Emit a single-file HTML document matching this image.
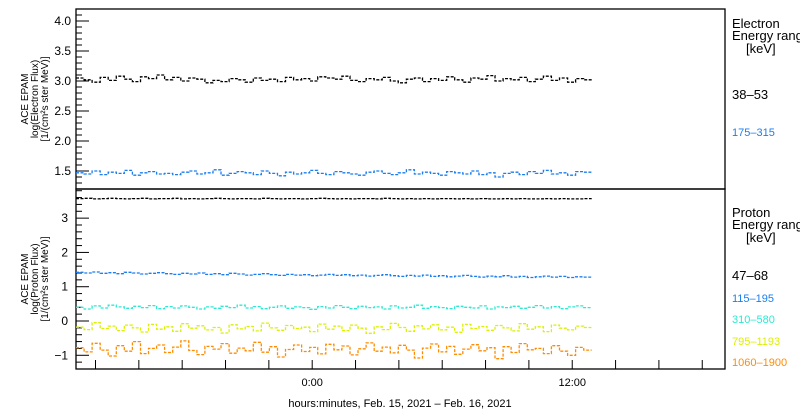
<!DOCTYPE html>
<html><head><meta charset="utf-8">
<style>
html,body{margin:0;padding:0;background:#fff;}
svg{display:block;font-family:"Liberation Sans",sans-serif;}
</style></head>
<body>
<svg id="chart" width="800" height="410" viewBox="0 0 800 410" xmlns="http://www.w3.org/2000/svg">
</svg>
<script>
// ---- data ----
const xTickHours = [-10,-8,-6,-4,-2,0,2,4,6,8,10,12,14,16,18];
const xLabelHours = [0,12];
const xLabels = ["0:00","12:00"];
const dataStartHour = -10.9;
const dataEndHour = 12.9;
const topTicks = [1.5,2.0,2.5,3.0,3.5,4.0];
const topTickLabels = ["1.5","2.0","2.5","3.0","3.5","4.0"];
const botTicks = [-1,0,1,2,3];
const botTickLabels = ["\u22121","0","1","2","3"];
const electronLabels = ["38\u201353","175\u2013315"];
const protonLabels = ["47\u201368","115\u2013195","310\u2013580","795\u20131193","1060\u20131900"];
const e1 = [3.05,3.02,2.98,3.06,3.01,3.08,3.03,2.99,3.07,3.04,3.10,3.02,3.06,3.00,3.05,3.03,2.97,3.01,2.99,3.04,3.02,2.98,3.05,3.01,3.03,2.99,3.06,3.02,3.04,3.00,3.07,3.05,3.03,3.08,3.01,2.99,3.04,3.02,3.06,3.00,2.97,3.03,3.05,2.99,3.04,3.01,3.07,3.02,2.98,3.05,3.03,3.09,3.00,3.04,3.02,3.06,2.99,3.03,3.08,3.01,3.05,2.98,3.04,3.02];
const e2 = [1.47,1.45,1.50,1.44,1.48,1.46,1.51,1.43,1.47,1.49,1.45,1.46,1.44,1.48,1.50,1.45,1.47,1.52,1.43,1.46,1.49,1.47,1.44,1.50,1.46,1.42,1.48,1.45,1.47,1.51,1.46,1.44,1.49,1.47,1.45,1.43,1.48,1.50,1.46,1.44,1.47,1.52,1.45,1.48,1.46,1.43,1.49,1.47,1.45,1.50,1.44,1.47,1.40,1.46,1.48,1.44,1.49,1.46,1.51,1.45,1.47,1.43,1.49,1.48];
const p1 = [3.57,3.58,3.56,3.57,3.58,3.57,3.56,3.57,3.58,3.56,3.57,3.57,3.58,3.56,3.57,3.56,3.57,3.58,3.57,3.56,3.57,3.57,3.56,3.58,3.57,3.56,3.57,3.57,3.56,3.57,3.58,3.57,3.56,3.57,3.56,3.57,3.57,3.56,3.58,3.57,3.56,3.57,3.56,3.57,3.56,3.57,3.57,3.56,3.57,3.56,3.57,3.56,3.56,3.57,3.56,3.57,3.56,3.56,3.57,3.56,3.57,3.56,3.56,3.57];
const p2 = [1.42,1.40,1.43,1.39,1.41,1.38,1.42,1.40,1.37,1.39,1.41,1.38,1.36,1.39,1.37,1.40,1.36,1.38,1.35,1.39,1.37,1.34,1.36,1.38,1.35,1.33,1.36,1.34,1.35,1.32,1.34,1.36,1.33,1.35,1.32,1.34,1.31,1.33,1.35,1.32,1.30,1.33,1.31,1.34,1.30,1.32,1.29,1.31,1.33,1.30,1.28,1.31,1.29,1.32,1.28,1.30,1.27,1.29,1.31,1.28,1.30,1.27,1.29,1.28];
const p3 = [0.40,0.35,0.44,0.38,0.46,0.41,0.37,0.43,0.39,0.45,0.36,0.42,0.38,0.44,0.40,0.35,0.41,0.37,0.43,0.39,0.46,0.38,0.42,0.36,0.40,0.44,0.37,0.41,0.39,0.34,0.42,0.38,0.45,0.40,0.36,0.43,0.39,0.41,0.35,0.44,0.38,0.40,0.46,0.37,0.42,0.39,0.36,0.43,0.40,0.38,0.44,0.35,0.41,0.39,0.43,0.37,0.40,0.45,0.38,0.42,0.36,0.41,0.44,0.39];
const p4 = [-0.18,-0.25,-0.05,-0.22,-0.15,-0.28,-0.12,-0.20,-0.32,-0.10,-0.24,-0.17,-0.30,-0.08,-0.21,-0.14,-0.26,-0.19,-0.35,-0.11,-0.23,-0.16,-0.29,-0.06,-0.20,-0.27,-0.13,-0.22,-0.18,-0.31,-0.09,-0.24,-0.15,-0.28,-0.12,-0.21,-0.36,-0.17,-0.25,-0.07,-0.19,-0.30,-0.14,-0.23,-0.11,-0.26,-0.18,-0.33,-0.10,-0.22,-0.16,-0.27,-0.13,-0.20,-0.29,-0.08,-0.24,-0.17,-0.31,-0.12,-0.21,-0.26,-0.15,-0.19];
const p5 = [-0.78,-0.90,-0.65,-0.85,-1.02,-0.72,-0.88,-0.60,-0.95,-0.80,-0.70,-0.92,-0.76,-0.58,-0.86,-0.98,-0.74,-0.82,-0.66,-0.94,-0.79,-0.87,-0.62,-0.91,-0.75,-1.05,-0.83,-0.70,-0.89,-0.77,-0.96,-0.68,-0.84,-0.73,-0.99,-0.81,-0.64,-0.88,-0.76,-0.93,-0.71,-0.85,-1.08,-0.79,-0.67,-0.90,-0.74,-0.97,-0.82,-0.69,-0.87,-0.78,-1.10,-0.75,-0.92,-0.66,-0.84,-0.80,-0.95,-0.72,-0.88,-1.00,-0.77,-0.85];

// ---- layout ----
const NS="http://www.w3.org/2000/svg";
const svg=document.getElementById('chart');
const X0=76,X1=725;
const H0=-10.9,H1=19.05;
function xs(h){return X0+(h-H0)/(H1-H0)*(X1-X0);}
const T0=9,T1=189,TMIN=1.2,TMAX=4.2;
function yTop(v){return T1-(v-TMIN)/(TMAX-TMIN)*(T1-T0);}
const B0=189,B1=369,BMIN=-1.4,BMAX=3.85;
function yBot(v){return B1-(v-BMIN)/(BMAX-BMIN)*(B1-B0);}
function el(tag,attrs,parent){const e=document.createElementNS(NS,tag);for(const k in attrs)e.setAttribute(k,attrs[k]);(parent||svg).appendChild(e);return e;}
function txt(s,x,y,attrs,parent){const t=el('text',Object.assign({x:x,y:y,'font-size':11},attrs),parent);t.textContent=s;return t;}

const fr1=el('rect',{x:X0,y:T0,width:X1-X0,height:T1-T0,fill:'none',stroke:'#000','stroke-width':1.3});


const fr2=el('rect',{x:X0,y:B0,width:X1-X0,height:B1-B0,fill:'none',stroke:'#000','stroke-width':1.3});



const gTop=el('g',{});


for(let i=0;i<=30;i++){const v=TMIN+i*0.1;const y=yTop(v);const major=topTicks.some(t=>Math.abs(t-v)<1e-6);
  el('line',{x1:X0,x2:X0+(major?13:6),y1:y,y2:y,stroke:'#000','stroke-width':1},gTop);}
topTicks.forEach((v,i)=>{const t=txt(topTickLabels[i],X0-5,yTop(v)+4,{'text-anchor':'end','font-size':12},gTop);
  
  });
const gBot=el('g',{});


for(let i=0;i<=26;i++){const v=-1.4+i*0.2;const y=yBot(v);const major=botTicks.some(t=>Math.abs(t-v)<1e-6);
  el('line',{x1:X0,x2:X0+(major?13:6),y1:y,y2:y,stroke:'#000','stroke-width':1},gBot);}
botTicks.forEach((v,i)=>{const t=txt(botTickLabels[i],X0-8,yBot(v)+4,{'text-anchor':'end','font-size':12},gBot);
  
  });

const gX=el('g',{});


xTickHours.forEach(h=>{const x=xs(h);el('line',{x1:x,x2:x,y1:B1,y2:B1-9,stroke:'#000','stroke-width':1},gX);});
xLabelHours.forEach((h,i)=>{const t=txt(xLabels[i],xs(h),386,{'text-anchor':'middle','font-size':11},gX);
  
  });
const xt=txt("hours:minutes, Feb. 15, 2021 \u2013 Feb. 16, 2021",400,407,{'text-anchor':'middle','font-size':11});



function ytitle(lines,cy,name){const g=el('g',{transform:`translate(30,${cy}) rotate(-90)`});
  
  
  lines.forEach((s,i)=>txt(s,0,i*10-2,{'text-anchor':'middle','font-size':10},g));}
ytitle(["ACE EPAM","log(Electron Flux)","[1/(cm\u00b2s ster MeV)]"],99,'electron-y-axis-title');
ytitle(["ACE EPAM","log(Proton Flux)","[1/(cm\u00b2s ster MeV)]"],279,'proton-y-axis-title');

function drawSeries(vals,yfn,color,name){
  const n=vals.length;const step=(xs(dataEndHour)-xs(dataStartHour))/n;
  let pts=[];
  vals.forEach((v,i)=>{const x=xs(dataStartHour)+i*step;const y=yfn(v);
    pts.push(x.toFixed(1)+','+y.toFixed(1));pts.push((x+step).toFixed(1)+','+y.toFixed(1));});
  const p=el('polyline',{points:pts.join(' '),fill:'none',stroke:color,'stroke-width':1.3,'stroke-dasharray':'3 1.5'});
  
  
}
drawSeries(e1,yTop,'#000','electron-38-53-series');
drawSeries(e2,yTop,'#1a7ef0','electron-175-315-series');
drawSeries(p1,yBot,'#000','proton-47-68-series');
drawSeries(p2,yBot,'#1a7ef0','proton-115-195-series');
drawSeries(p3,yBot,'#2fe8d2','proton-310-580-series');
drawSeries(p4,yBot,'#dcf000','proton-795-1193-series');
drawSeries(p5,yBot,'#ff8c00','proton-1060-1900-series');

function legHead(lines,y,name){const g=el('g',{});
  
  
  txt(lines[0],732,y,{'font-size':13},g);txt(lines[1],732,y+12,{'font-size':13},g);txt("[keV]",746,y+25,{'font-size':13},g);}
legHead(["Electron","Energy ranges"],28,'electron-legend-title');
legHead(["Proton","Energy ranges"],217,'proton-legend-title');
const eCols=['#000','#1a7ef0'];const eY=[99,136];
electronLabels.forEach((s,i)=>{const t=txt(s,732,eY[i],{fill:eCols[i],'font-size':i==0?13:11});
  
  });
const pCols=['#000','#1a7ef0','#2fe8d2','#dcf000','#ff8c00'];const pY=[280,302,323,345,366];
protonLabels.forEach((s,i)=>{const t=txt(s,732,pY[i],{fill:pCols[i],'font-size':i==0?13:11});
  
  });
</script>
</body></html>
